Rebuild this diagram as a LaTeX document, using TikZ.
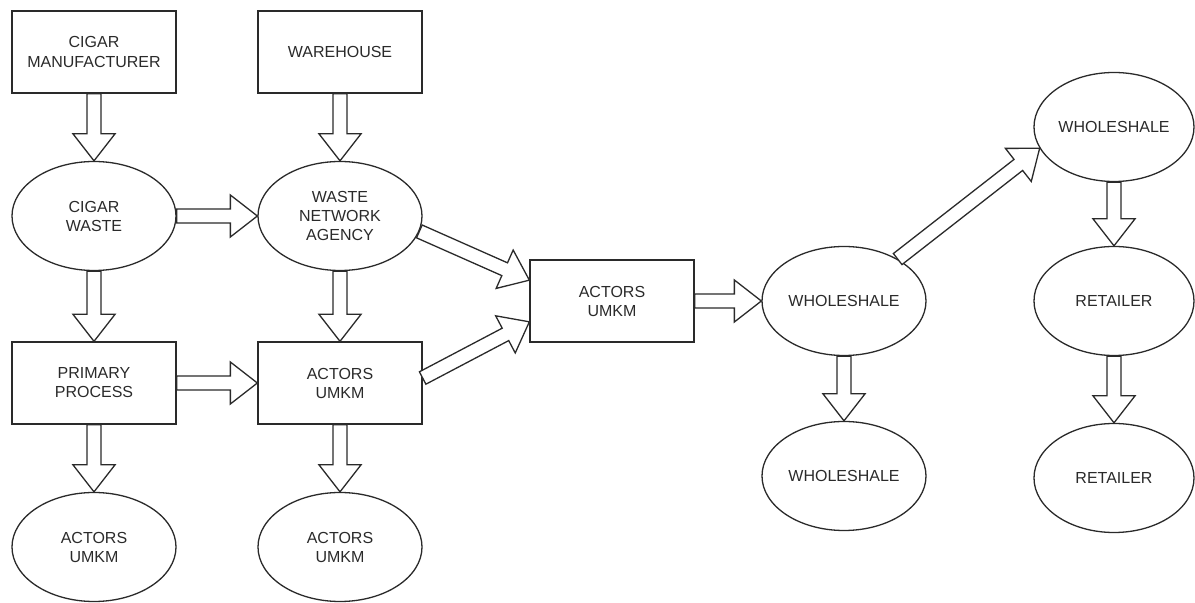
\documentclass[tikz,border=0pt]{standalone}
\usepackage{fontspec}
\setmainfont{Liberation Sans}
\usetikzlibrary{shapes.geometric,calc}
\definecolor{fcline}{HTML}{2A2A2A}
\newcommand{\fcfont}{\fontsize{8}{9.5}\selectfont}
\newcommand{\arrshaft}{3.5pt}
\newcommand{\arrwing}{10.5pt}
\newcommand{\arrhead}{13.5pt}
% hollow block arrow from #1 to #2
\newcommand{\blkarrow}[2]{%
  \coordinate (hb) at ($(#2)!\arrhead!(#1)$);
  \draw[fcarrow] ($(#1)!\arrshaft!90:(#2)$) -- ($(hb)!\arrshaft!90:(#2)$)
    -- ($(hb)!\arrwing!90:(#2)$) -- (#2) -- ($(hb)!\arrwing!-90:(#2)$)
    -- ($(hb)!\arrshaft!-90:(#2)$) -- ($(#1)!\arrshaft!-90:(#2)$) -- cycle;}
\tikzset{
  fcbox/.style={rectangle, draw=fcline, line width=0.65pt, minimum width=82pt,
    minimum height=41pt, inner sep=0pt, align=center, font=\fcfont, text=fcline},
  fcoval/.style={ellipse, draw=fcline, line width=0.65pt, minimum width=82pt,
    minimum height=54.5pt, inner sep=0pt, align=center, font=\fcfont, text=fcline},
  fcarrow/.style={draw=fcline, line width=0.65pt, fill=white, line join=miter},
}

\begin{document}
\begin{tikzpicture}[x=0.5pt, y=-0.5pt]
\useasboundingbox (0,0) rectangle (1195,603);
% left part
\node[fcbox] (mfr) at (94,52) {CIGAR\\MANUFACTURER};
\node[fcbox] (whouse) at (340,52) {WAREHOUSE};
\node[fcoval] (cwaste) at (94,216) {CIGAR\\WASTE};
\node[fcoval] (wna) at (340,216) {WASTE\\NETWORK\\AGENCY};
\node[fcbox] (pproc) at (94,383) {PRIMARY\\PROCESS};
\node[fcbox] (umkmA) at (340,383) {ACTORS\\UMKM};
\node[fcoval] (umkmB) at (94,547) {ACTORS\\UMKM};
\node[fcoval] (umkmC) at (340,547) {ACTORS\\UMKM};
% middle part
\node[fcbox] (umkmD) at (612,301) {ACTORS\\UMKM};
\node[fcoval] (whsA) at (844,301) {WHOLESHALE};
\node[fcoval] (whsB) at (844,476) {WHOLESHALE};
% right part
\node[fcoval, minimum width=80pt] (whsC) at (1114,127) {WHOLESHALE};
\node[fcoval, minimum width=80pt] (retA) at (1114,301) {RETAILER};
\node[fcoval, minimum width=80pt] (retB) at (1114,478) {RETAILER};

\coordinate (inA) at ($(umkmD.north west)!0.5!(umkmD.west)$);
\coordinate (inB) at ($(umkmD.south west)!0.5!(umkmD.west)$);
\coordinate (outA) at ($(umkmA.east)!0.12!(umkmA.north east)$);

\blkarrow{mfr.south}{cwaste.north}
\blkarrow{whouse.south}{wna.north}
\blkarrow{cwaste.east}{wna.west}
\blkarrow{cwaste.south}{pproc.north}
\blkarrow{wna.south}{umkmA.north}
\blkarrow{pproc.east}{umkmA.west}
\blkarrow{pproc.south}{umkmB.north}
\blkarrow{umkmA.south}{umkmC.north}
\blkarrow{wna.-11}{inA}
\blkarrow{outA}{inB}
\blkarrow{umkmD.east}{whsA.west}
\blkarrow{whsA.38}{whsC.196}
\blkarrow{whsA.south}{whsB.north}
\blkarrow{whsC.south}{retA.north}
\blkarrow{retA.south}{retB.north}
\end{tikzpicture}
\end{document}
